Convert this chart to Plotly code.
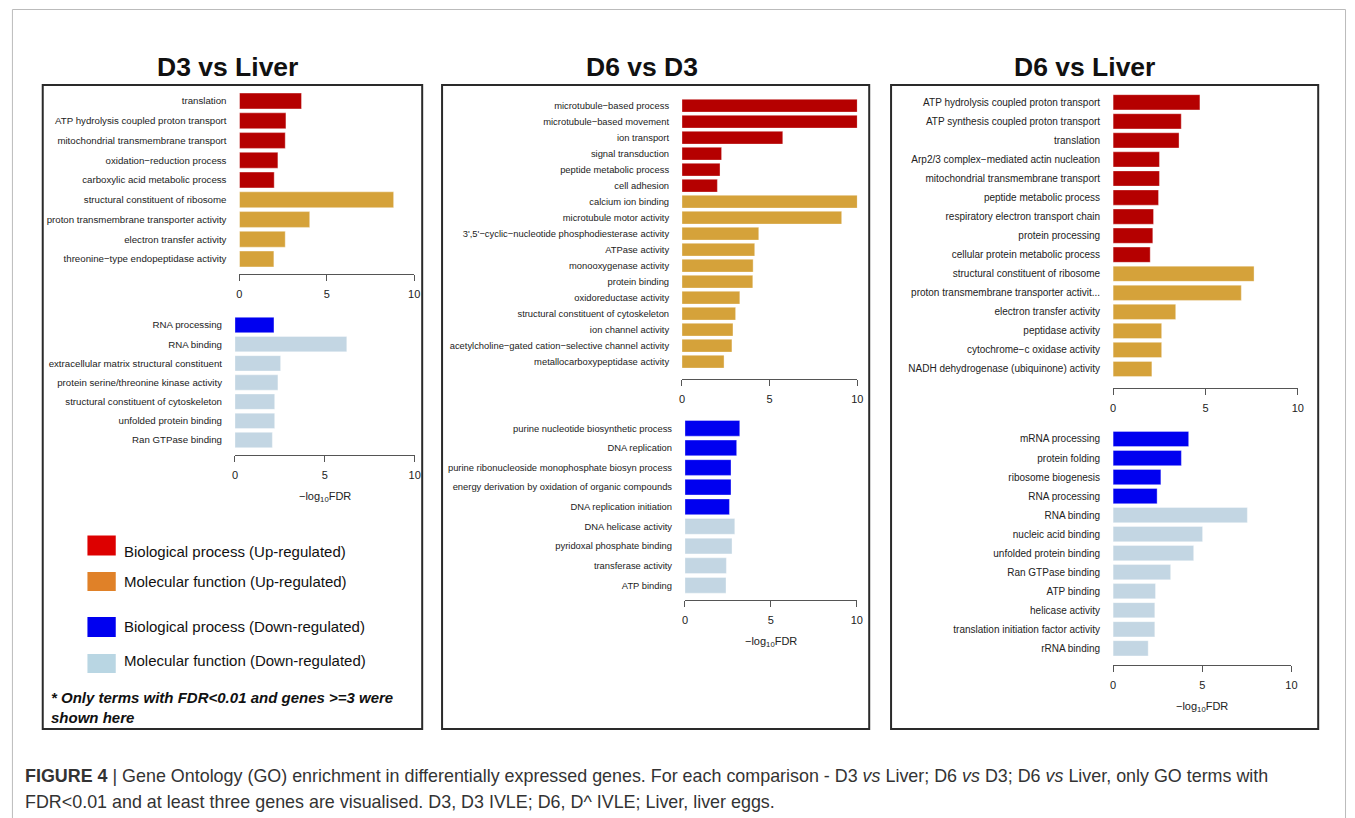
import plotly.graph_objects as go

W, H = 1355, 818

# ---- GO terms and -log10(FDR) values ----
# D3 vs Liver
d3l_up_terms = ["translation", "ATP hydrolysis coupled proton transport",
                "mitochondrial transmembrane transport", "oxidation\u2212reduction process",
                "carboxylic acid metabolic process", "structural constituent of ribosome",
                "proton transmembrane transporter activity", "electron transfer activity",
                "threonine\u2212type endopeptidase activity"]
d3l_up_vals = [3.55, 2.66, 2.62, 2.20, 1.99, 8.82, 4.02, 2.62, 1.97]
d3l_up_kind = ["BP"] * 5 + ["MF"] * 4

d3l_dn_terms = ["RNA processing", "RNA binding", "extracellular matrix structural constituent",
                "protein serine/threonine kinase activity", "structural constituent of cytoskeleton",
                "unfolded protein binding", "Ran GTPase binding"]
d3l_dn_vals = [2.17, 6.22, 2.54, 2.39, 2.21, 2.21, 2.08]
d3l_dn_kind = ["BP"] + ["MF"] * 6

# D6 vs D3
d6d3_up_terms = ["microtubule\u2212based process", "microtubule\u2212based movement", "ion transport",
                 "signal transduction", "peptide metabolic process", "cell adhesion",
                 "calcium ion binding", "microtubule motor activity",
                 "3',5'\u2212cyclic\u2212nucleotide phosphodiesterase activity", "ATPase activity",
                 "monooxygenase activity", "protein binding", "oxidoreductase activity",
                 "structural constituent of cytoskeleton", "ion channel activity",
                 "acetylcholine\u2212gated cation\u2212selective channel activity",
                 "metallocarboxypeptidase activity"]
d6d3_up_vals = [10.0, 10.0, 5.75, 2.26, 2.17, 2.02, 10.0, 9.11, 4.38, 4.15,
                4.06, 4.04, 3.30, 3.06, 2.91, 2.85, 2.40]
d6d3_up_kind = ["BP"] * 6 + ["MF"] * 11

d6d3_dn_terms = ["purine nucleotide biosynthetic process", "DNA replication",
                 "purine ribonucleoside monophosphate biosyn process",
                 "energy derivation by oxidation of organic compounds", "DNA replication initiation",
                 "DNA helicase activity", "pyridoxal phosphate binding", "transferase activity",
                 "ATP binding"]
d6d3_dn_vals = [3.19, 3.01, 2.68, 2.68, 2.59, 2.90, 2.74, 2.41, 2.39]
d6d3_dn_kind = ["BP"] * 5 + ["MF"] * 4

# D6 vs Liver
d6l_up_terms = ["ATP hydrolysis coupled proton transport", "ATP synthesis coupled proton transport",
                "translation", "Arp2/3 complex\u2212mediated actin nucleation",
                "mitochondrial transmembrane transport", "peptide metabolic process",
                "respiratory electron transport chain", "protein processing",
                "cellular protein metabolic process", "structural constituent of ribosome",
                "proton transmembrane transporter activit...", "electron transfer activity",
                "peptidase activity", "cytochrome\u2212c oxidase activity",
                "NADH dehydrogenase (ubiquinone) activity"]
d6l_up_vals = [4.70, 3.69, 3.57, 2.51, 2.51, 2.46, 2.19, 2.15, 2.01, 7.63, 6.94, 3.39,
               2.63, 2.63, 2.10]
d6l_up_kind = ["BP"] * 9 + ["MF"] * 6

d6l_dn_terms = ["mRNA processing", "protein folding", "ribosome biogenesis", "RNA processing",
                "RNA binding", "nucleic acid binding", "unfolded protein binding",
                "Ran GTPase binding", "ATP binding", "helicase activity",
                "translation initiation factor activity", "rRNA binding"]
d6l_dn_vals = [4.24, 3.83, 2.68, 2.47, 7.53, 5.02, 4.52, 3.23, 2.38, 2.34, 2.34, 1.97]
d6l_dn_kind = ["BP"] * 4 + ["MF"] * 8

x_ticks = [0, 5, 10]
panel_titles = ["D3 vs Liver", "D6 vs D3", "D6 vs Liver"]
legend_labels = ["Biological process (Up-regulated)", "Molecular function (Up-regulated)",
                 "Biological process (Down-regulated)", "Molecular function (Down-regulated)"]

UP_COL = {"BP": "#B50000", "MF": "#D5A23A"}
DN_COL = {"BP": "#0000F0", "MF": "#C3D6E3"}
LEG_COL = ["#DD0000", "#E08128", "#0000F0", "#B9D6E3"]

FONT = "Liberation Sans, Arial, Helvetica, sans-serif"


def px(x):
    return x / W


def py(y):
    return 1 - y / H


# (terms, values, kinds, palette, x0px, x10px, first bar centre, last bar centre, axis line y, label size, show x title)
panels = [
    (d3l_up_terms, d3l_up_vals, d3l_up_kind, UP_COL, 238, 414, 101, 259, 274, 9.7, False),
    (d3l_dn_terms, d3l_dn_vals, d3l_dn_kind, DN_COL, 233.5, 414.5, 325, 440, 455, 9.7, True),
    (d6d3_up_terms, d6d3_up_vals, d6d3_up_kind, UP_COL, 683.5, 860, 105.7, 361.7, 379, 9.4, False),
    (d6d3_dn_terms, d6d3_dn_vals, d6d3_dn_kind, DN_COL, 686.5, 859.5, 428.3, 585.3, 600, 9.4, True),
    (d6l_up_terms, d6l_up_vals, d6l_up_kind, UP_COL, 1117.5, 1303.5, 102.3, 369, 387.5, 10.0, False),
    (d6l_dn_terms, d6l_dn_vals, d6l_dn_kind, DN_COL, 1117.5, 1297, 439, 648.3, 665, 10.0, True),
]

fig = go.Figure()
layout = {}
annotations = []
shapes = []

for i, (terms, vals, kinds, pal, x0, x1, c0, c1, ax_y, fs, xtitle) in enumerate(panels):
    k = "" if i == 0 else str(i + 1)
    n = len(terms)
    step = (c1 - c0) / (n - 1)
    top = c0 - step / 2
    bot = c1 + step / 2
    fig.add_trace(go.Bar(
        x=vals, y=terms, orientation="h",
        marker=dict(color=[pal[t] for t in kinds], line=dict(color="rgba(255,255,255,0.6)", width=0.6)),
        xaxis="x" + k, yaxis="y" + k, showlegend=False,
        hovertemplate="%{y}: %{x:.2f}<extra></extra>",
    ))
    layout["xaxis" + k] = dict(
        domain=[px(x0), px(x1)], range=[0, 10], anchor="free", position=py(ax_y),
        showline=True, linecolor="#555", linewidth=1, ticks="outside", ticklen=6,
        tickcolor="#555", tickwidth=1, tickvals=x_ticks, showgrid=False, zeroline=False,
        ticklabelstandoff=4,
        tickfont=dict(family=FONT, size=11, color="#222"),
        fixedrange=True,
    )
    layout["yaxis" + k] = dict(
        domain=[py(bot), py(top)], anchor="x" + k, type="category",
        categoryorder="array", categoryarray=terms, range=[n - 0.5, -0.5],
        showline=False, showgrid=False, zeroline=False, ticks="outside", ticklen=10,
        tickcolor="rgba(0,0,0,0)",
        tickfont=dict(family=FONT, size=fs, color="#222"),
        fixedrange=True,
    )
    if xtitle:
        annotations.append(dict(
            x=(px(x0) + px(x1)) / 2, y=py(ax_y + 42), xref="paper", yref="paper",
            text="\u2212log<sub>10</sub>FDR", showarrow=False, xanchor="center", yanchor="middle",
            font=dict(family=FONT, size=11, color="#222"),
        ))

fig.update_layout(**layout)

# bar gap: ~16 px bars on ~20 px rows
fig.update_layout(bargap=0.2)

# panel frames and titles
frames = [(40, 422), (442, 872), (894, 1324)]
title_x = [226, 643, 1089]
for (l, r), tx, t in zip(frames, title_x, panel_titles):
    shapes.append(dict(type="rect", xref="paper", yref="paper", x0=px(l), x1=px(r),
                       y0=py(729), y1=py(85), line=dict(color="#2a2a2a", width=2)))
    annotations.append(dict(x=px(tx), y=py(67), xref="paper", yref="paper", text="<b>%s</b>" % t,
                            showarrow=False, xanchor="center", yanchor="middle",
                            font=dict(family=FONT, size=26.5, color="#111")))

# outer figure border
shapes.append(dict(type="path", xref="paper", yref="paper",
                   path="M %f %f L %f %f L %f %f L %f %f" % (px(9.5), py(830), px(9.5), py(9.5),
                                                          px(1351.5), py(9.5), px(1351.5), py(830)),
                   line=dict(color="#bbbbbb", width=1)))

# colour key
key_rows = [(535.5, 555.5, 551), (572, 591, 581), (617, 637, 626), (654, 673, 660)]
for (ya, yb, yt), col, lab in zip(key_rows, LEG_COL, legend_labels):
    shapes.append(dict(type="rect", xref="paper", yref="paper", x0=px(85), x1=px(113.5),
                       y0=py(yb), y1=py(ya), fillcolor=col, line=dict(width=0)))
    annotations.append(dict(x=px(120), y=py(yt), xref="paper", yref="paper", text=lab,
                            showarrow=False, xanchor="left", yanchor="middle",
                            font=dict(family=FONT, size=15, color="#111")))

annotations.append(dict(x=px(46), y=py(707), xref="paper", yref="paper",
                        text="<b><i>* Only terms with FDR&lt;0.01 and genes &gt;=3 were<br>shown here</i></b>",
                        showarrow=False, xanchor="left", yanchor="middle", align="left",
                        font=dict(family=FONT, size=15, color="#111")))

# caption
cap1 = ("<b>FIGURE 4</b> | Gene Ontology (GO) enrichment in differentially expressed genes. "
        "For each comparison - D3 <i>vs</i> Liver; D6 <i>vs</i> D3; D6 <i>vs</i> Liver, only GO terms with")
cap2 = "FDR&lt;0.01 and at least three genes are visualised. D3, D3 IVLE; D6, D^ IVLE; Liver, liver eggs."
for txt, yy in [(cap1, 776), (cap2, 802)]:
    annotations.append(dict(x=px(20), y=py(yy), xref="paper", yref="paper", text=txt,
                            showarrow=False, xanchor="left", yanchor="middle",
                            font=dict(family=FONT, size=17.9, color="#333")))

fig.update_layout(
    width=W, height=H, autosize=False, margin=dict(l=0, r=0, t=0, b=0),
    paper_bgcolor="white", plot_bgcolor="white",
    shapes=shapes, annotations=annotations, showlegend=False,
)

fig.write_html("out.html", config={"displayModeBar": False})
